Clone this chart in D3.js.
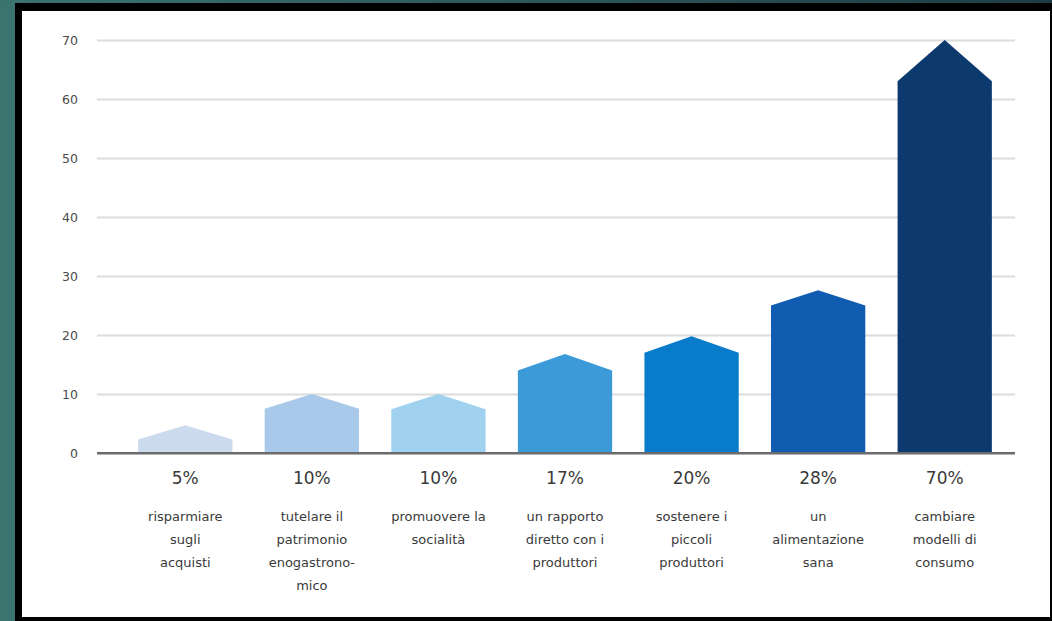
<!DOCTYPE html>
<html>
<head>
<meta charset="utf-8">
<script src="https://cdn.jsdelivr.net/npm/d3@7"></script>
<style>
  body { margin: 0; background: #000; }
  svg { display: block; }
  text { font-family: "DejaVu Sans", "Open Sans", sans-serif; }
</style>
</head>
<body>
<script>
// data
var categories = [
    ['risparmiare', 'sugli', 'acquisti'],
    ['tutelare il', 'patrimonio', 'enogastrono-', 'mico'],
    ['promuovere la', 'socialità'],
    ['un rapporto', 'diretto con i', 'produttori'],
    ['sostenere i', 'piccoli', 'produttori'],
    ['un', 'alimentazione', 'sana'],
    ['cambiare', 'modelli di', 'consumo']
];
var percentLabels = ['5%', '10%', '10%', '17%', '20%', '28%', '70%'];
var peakValues = [4.7, 10, 10, 16.8, 19.8, 27.6, 70];
var shoulderValues = [2.3, 7.5, 7.4, 14, 17, 25, 63];
var yTicks = [0, 10, 20, 30, 40, 50, 60, 70];
var barColors = ['#cbdaec', '#a8c9ea', '#a0d1ef', '#3c9ad8', '#087ccb', '#0f5cb0', '#0c3a6e'];

var width = 1052;
var height = 621;

var svg = d3.select('body')
    .append('svg')
    .attr('width', width)
    .attr('height', height);

// frame
var grad = svg.append('defs').append('linearGradient')
    .attr('id', 'topband')
    .attr('x1', 0).attr('x2', 1).attr('y1', 0).attr('y2', 0);
grad.append('stop').attr('offset', '0%').attr('stop-color', '#3b736e');
grad.append('stop').attr('offset', '100%').attr('stop-color', '#1e3d42');

svg.append('rect')
    .attr('width', width).attr('height', height)
    .attr('fill', '#3b736e');
svg.append('rect')
    .attr('width', width).attr('height', 4)
    .attr('fill', 'url(#topband)');
svg.append('rect')
    .attr('x', 15).attr('y', 3)
    .attr('width', width - 15).attr('height', height - 3)
    .attr('fill', '#000');
svg.append('rect')
    .attr('x', 22).attr('y', 11)
    .attr('width', 1028).attr('height', 606)
    .attr('fill', '#fff');

//scales
var xScale = d3.scaleBand()
    .domain(d3.range(categories.length))
    .range([122, 1008])
    .paddingInner(0.255)
    .paddingOuter(0.1275);

var yScale = d3.scaleLinear()
    .domain([0, 70])
    .range([453, 40]);

//grid
var grid = svg.append('g')
    .attr('transform', 'translate(97,0)')
    .call(d3.axisLeft(yScale)
        .tickValues(yTicks)
        .tickSize(-918)
        .tickPadding(19)
        .tickFormat(d3.format('d')));

grid.select('.domain').remove();
grid.selectAll('.tick line')
    .attr('stroke', d => d === 0 ? '#6b6b6b' : '#dcdcdc')
    .attr('stroke-width', 2);
grid.selectAll('.tick text')
    .attr('fill', '#4a4a4a')
    .style('font-family', '"DejaVu Sans", sans-serif')
    .style('font-size', '12.5px');

//bars
svg.append('g')
    .selectAll('path')
    .data(peakValues)
    .join('path')
    .attr('fill', (d, i) => barColors[i])
    .attr('d', function(d, i) {
        var x0 = xScale(i);
        var x1 = x0 + xScale.bandwidth();
        var xc = x0 + xScale.bandwidth() / 2;
        var p = d3.path();
        p.moveTo(x0, yScale(0));
        p.lineTo(x0, yScale(shoulderValues[i]));
        p.lineTo(xc, yScale(d));
        p.lineTo(x1, yScale(shoulderValues[i]));
        p.lineTo(x1, yScale(0));
        p.closePath();
        return p.toString();
    });

// redraw the zero line over the bars
svg.append('line')
    .attr('x1', 97).attr('x2', 1015)
    .attr('y1', yScale(0)).attr('y2', yScale(0))
    .attr('stroke', '#6b6b6b')
    .attr('stroke-width', 2);

//percent labels
svg.append('g')
    .selectAll('text')
    .data(percentLabels)
    .join('text')
    .text(d => d)
    .attr('x', (d, i) => xScale(i) + xScale.bandwidth() / 2)
    .attr('y', 484)
    .attr('text-anchor', 'middle')
    .attr('fill', '#3a3a3a')
    .style('font-size', '17px');

//category labels
var cats = svg.append('g')
    .selectAll('text')
    .data(categories)
    .join('text')
    .attr('text-anchor', 'middle')
    .attr('fill', '#3a3a3a')
    .style('font-size', '13px');

cats.selectAll('tspan')
    .data((d, i) => d.map(t => ({t: t, i: i})))
    .join('tspan')
    .attr('x', d => xScale(d.i) + xScale.bandwidth() / 2)
    .attr('y', (d, j) => 521 + j * 23)
    .text(d => d.t);
</script>
</body>
</html>
